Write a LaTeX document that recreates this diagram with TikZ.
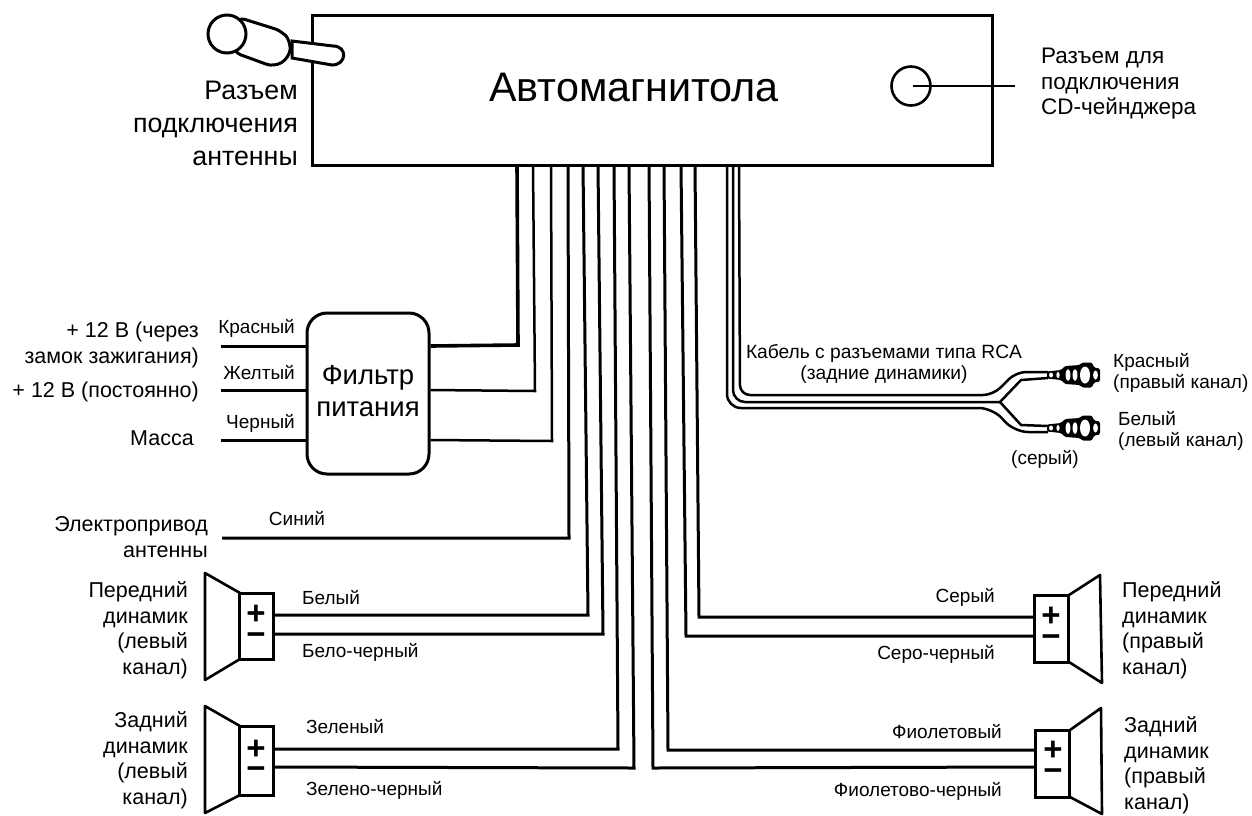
\documentclass[tikz,border=0pt]{standalone}
\usepackage{fontspec}
\setmainfont{Liberation Sans}
\tikzset{
  wire/.style = {line width=3pt, line join=miter},
  thinwire/.style = {line width=2.5pt},
  base/.style = {draw=black, line width=3pt, fill=white, inner sep=0pt},
  spkbox/.style = {base, rectangle, minimum width=34pt},
  cone/.style = {line width=2.6pt, line join=round},
  sign/.style = {inner sep=0pt, font=\fontsize{33}{33}\selectfont\bfseries},
  txt/.style = {inner sep=0pt, align=center, font=\fontsize{21.5}{25.5}\selectfont},
  tag/.style = {inner sep=0pt, font=\fontsize{19}{21.5}\selectfont},
}
% one RCA plug, its tail at the given height
\newcommand{\rcaplug}[1]{
  \begin{scope}[yshift=-#1pt]
    \fill[rounded corners=1.5pt] (1047,-3.5) -- (1061,-5) -- (1065,-9) -- (1080,-10) -- (1082,-12.5) -- (1092,-12.5)
      -- (1094,-7.5) -- (1100,-6.5) -- (1100,6.5) -- (1094,7.5) -- (1092,12.5) -- (1082,12.5) -- (1080,10)
      -- (1065,9) -- (1061,5) -- (1047,3.5) -- cycle;
    \foreach \cx/\rx/\ry in {1051/2/2.5, 1058/1.6/3, 1068/2.4/6, 1075/2.4/6, 1085/5/8.5, 1095.5/2.4/4.5}
      \fill[white] (\cx,0) ellipse [x radius=\rx pt, y radius=\ry pt];
  \end{scope}
}

\begin{document}
\begin{tikzpicture}[x=1pt, y=-1pt]
  \useasboundingbox (0,0) rectangle (1252,815);

  \node (head) [base, rectangle, minimum width=680pt, minimum height=150pt] at (652,90) {};
  \node (headtxt) [inner sep=0pt, font=\fontsize{41.3}{41.3}\selectfont] at (634,87) {Автомагнитола};
  \foreach \n/\x in {a/517,b/533,c/551,d/568,e/583,f/598,g/614,h/629,i/649,j/664,k/681,l/695}
    \coordinate (out\n) at (\x,165);

  % antenna
  \draw[base] (292,41) -- (333,46) to[out=0,in=0,looseness=2] (332,65) -- (292,58) -- cycle;
  \draw[base, rounded corners=8pt] (237,17) -- (282,31) -- (291,42) -- (289,58) -- (274,67) -- (233,52) -- cycle;
  \node (antplug) [base, circle, minimum size=38pt] at (227,34) {};
  \node (anttxt) [txt, align=right, anchor=east, font=\fontsize{26.8}{33}\selectfont] at (298,123) {Разъем\\подключения\\антенны};

  % CD input
  \node (cd) [draw, circle, line width=2.6pt, minimum size=39pt, inner sep=0pt] at (911,86) {};
  \coordinate (cdend) at (1015,86);
  \draw[line width=2pt] (913,86) -- (cdend);
  \node (cdtxt) [txt, align=left, anchor=west, font=\fontsize{22.5}{25.5}\selectfont] at (1041,84) {Разъем для\\подключения\\CD-чейнджера};

  % power filter
  \node (filt) [base, rectangle, rounded corners=20pt, minimum width=122pt, minimum height=161pt] at (368,393.5) {};
  \node (filttxt) [txt, font=\fontsize{27.5}{32.5}\selectfont] at (368,391) {Фильтр\\питания};
  \coordinate (inr) at (221,346);
  \coordinate (iny) at (221,390);
  \coordinate (inb) at (221,440);
  \draw[wire] (inr) -- (filt.west |- inr);
  \draw[wire] (iny) -- (filt.west |- iny);
  \draw[wire] (inb) -- (filt.west |- inb);
  \draw[wire, line width=3.6pt] (filt.east |- inr) -- (518,345) -- (outa);
  \draw[thinwire] (filt.east |- iny) -- (535,391) -- (outb);
  \draw[thinwire] (filt.east |- inb) -- (552,441) -- (outc);
  \node (redt) [tag, anchor=east] at (295,328) {Красный};
  \node (yelt) [tag, anchor=east] at (295,373) {Желтый};
  \node (blkt) [tag, anchor=east] at (295,423) {Черный};
  \node (pw1) [txt, align=right, anchor=east] at (199,345) {+ 12 В (через\\замок зажигания)};
  \node (pw2) [txt, anchor=east] at (199,392) {+ 12 В (постоянно)};
  \node (pw3) [txt, anchor=east] at (194,438) {Масса};

  % aerial drive
  \coordinate (inant) at (222,538);
  \draw[wire] (inant) -- (569,538) -- (outd);
  \node (bluet) [tag] at (297,519) {Синий};
  \node (drv) [txt, align=right, anchor=east] at (208,537) {Электропривод\\антенны};

  % left speakers
  \draw[cone] (240,593) -- (205,573) -- (205,680) -- (240,659);
  \node (spkfl) [spkbox, minimum height=66pt] at (256.5,626) {};
  \node (flp) [sign] at (256,614.5) {+};
  \node (flm) [sign] at (256,639) {−};
  \draw[cone] (240,726) -- (205,706) -- (205,813) -- (240,795);
  \node (spkrl) [spkbox, minimum height=69pt] at (256.5,760.5) {};
  \node (rlp) [sign] at (256,750) {+};
  \node (rlm) [sign] at (256,773) {−};
  \coordinate (flpw) at (273,615);
  \coordinate (flmw) at (273,634);
  \coordinate (rlpw) at (273,749);
  \coordinate (rlmw) at (273,767);
  \draw[wire] (flpw) -- (588,615) -- (oute);
  \draw[wire] (flmw) -- (603,634) -- (outf);
  \draw[wire] (rlpw) -- (618,749) -- (outg);
  \draw[wire] (rlmw) -- (634,768) -- (outh);
  \node (t1) [tag, anchor=west] at (302,598) {Белый};
  \node (t2) [tag, anchor=west] at (302,652) {Бело-черный};
  \node (t3) [tag, anchor=west] at (306,727) {Зеленый};
  \node (t4) [tag, anchor=west] at (306,790) {Зелено-черный};
  \node (capfl) [txt, align=right, anchor=east] at (188,630) {Передний\\динамик\\(левый\\канал)};
  \node (caprl) [txt, align=right, anchor=east] at (188,760) {Задний\\динамик\\(левый\\канал)};

  % right speakers
  \draw[cone] (1069,595) -- (1100,575) -- (1102,683) -- (1069,662);
  \node (spkfr) [spkbox, minimum height=67pt] at (1051,628.5) {};
  \node (frp) [sign] at (1051,617) {+};
  \node (frm) [sign] at (1051,641) {−};
  \draw[cone] (1070,730) -- (1101,708) -- (1102,814) -- (1070,797);
  \node (spkrr) [spkbox, minimum height=67pt] at (1052.5,763.5) {};
  \node (rrp) [sign] at (1053,751) {+};
  \node (rrm) [sign] at (1053,775) {−};
  \coordinate (frpw) at (1034,617);
  \coordinate (frmw) at (1034,636);
  \coordinate (rrpw) at (1036,750);
  \coordinate (rrmw) at (1036,767);
  \draw[wire] (frpw) -- (699,617) -- (outl);
  \draw[wire] (frmw) -- (686,636) -- (outk);
  \draw[wire] (rrpw) -- (668,750) -- (outj);
  \draw[wire] (rrmw) -- (653,768) -- (outi);
  \node (t5) [tag, anchor=east] at (995,597) {Серый};
  \node (t6) [tag, anchor=east] at (995,654) {Серо-черный};
  \node (t7) [tag, anchor=east] at (1002,732) {Фиолетовый};
  \node (t8) [tag, anchor=east] at (1002,791) {Фиолетово-черный};
  \node (capfr) [txt, align=left, anchor=west] at (1122,630) {Передний\\динамик\\(правый\\канал)};
  \node (caprr) [txt, align=left, anchor=west] at (1124,765) {Задний\\динамик\\(правый\\канал)};

  % RCA cable
  \coordinate (rcaa) at (727,165);
  \coordinate (rcab) at (733,165);
  \coordinate (rcac) at (739,165);
  \draw[thinwire, rounded corners=14pt] (rcaa) -- (727,408) -- (993,408) -- (1014,432) -- (1048,432);
  \draw[thinwire, rounded corners=12pt] (rcab) -- (733,402) -- (1000,402);
  \draw[thinwire, rounded corners=10pt] (rcac) -- (740,395) -- (993,395) -- (1016,372) -- (1048,372);
  \draw[thinwire] (1000,402) -- (1021,380) -- (1048,378);
  \draw[thinwire] (1000,402) -- (1021,425) -- (1048,426);
  \rcaplug{375}
  \rcaplug{428}
  \node (rcat) [tag, align=center, font=\fontsize{19.2}{21.5}\selectfont] at (884,364) {Кабель с разъемами типа RCA\\(задние динамики)};
  \node (rcar) [tag, anchor=west] at (1113,362) {Красный};
  \node (rcar2) [tag, anchor=west] at (1113,383) {(правый канал)};
  \node (rcaw) [tag, anchor=west] at (1118,419) {Белый};
  \node (rcaw2) [tag, anchor=west] at (1118,441) {(левый канал)};
  \node (rcag) [tag] at (1045,459) {(серый)};
\end{tikzpicture}
\end{document}
